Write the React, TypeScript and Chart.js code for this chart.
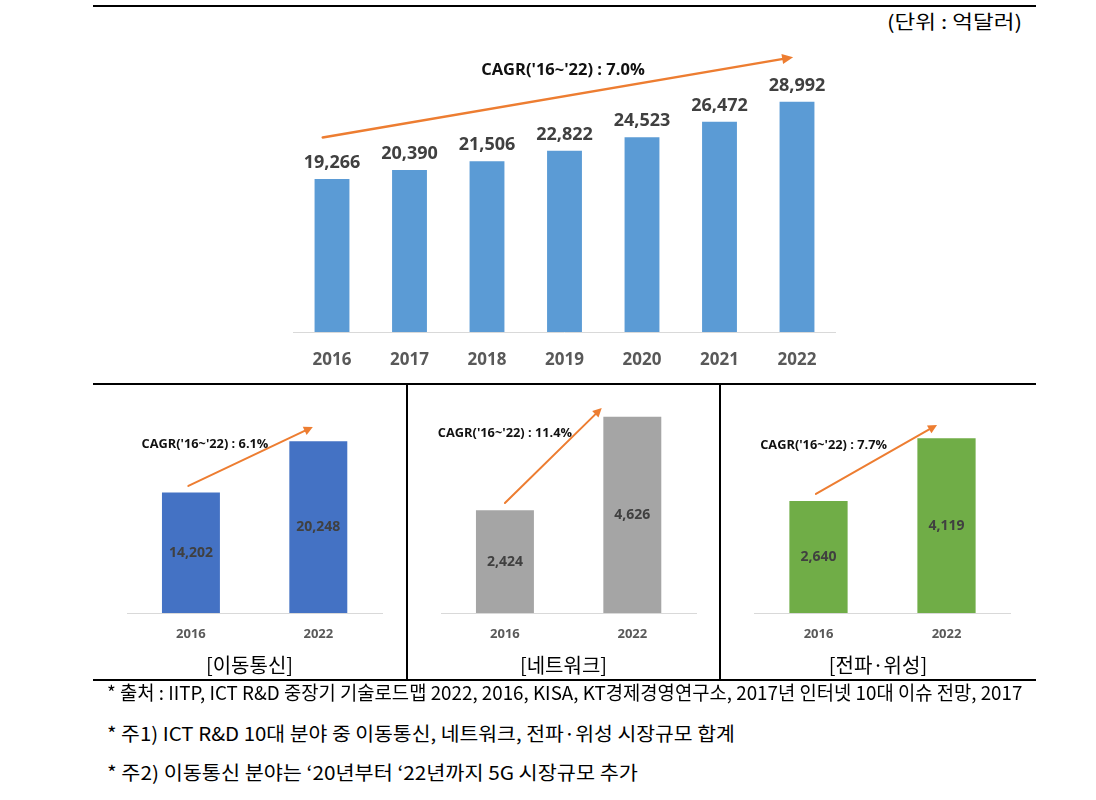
import React, { useEffect, useLayoutEffect, useRef, useState } from "react";
import { Chart, registerables } from "chart.js";

Chart.register(...registerables);

// ---------- data ----------
const TOP_YEARS = ["2016", "2017", "2018", "2019", "2020", "2021", "2022"];
const TOP_VALUES = [19266, 20390, 21506, 22822, 24523, 26472, 28992];
const SMALL_YEARS = ["2016", "2022"];
const MOBILE_VALUES = [14202, 20248];
const NETWORK_VALUES = [2424, 4626];
const RADIO_VALUES = [2640, 4119];

const TOP_CAGR = "CAGR('16~'22) : 7.0%";
const MOBILE_CAGR = "CAGR('16~'22) : 6.1%";
const NETWORK_CAGR = "CAGR('16~'22) : 11.4%";
const RADIO_CAGR = "CAGR('16~'22) : 7.7%";

const UNIT_TEXT = "(단위 : 억달러)";
const PANEL_TITLES = ["[이동통신]", "[네트워크]", "[전파·위성]"];
const FOOTNOTES = [
  "* 출처 : IITP, ICT R&D 중장기 기술로드맵 2022, 2016, KISA, KT경제경영연구소, 2017년 인터넷 10대 이슈 전망, 2017",
  "* 주1) ICT R&D 10대 분야 중 이동통신, 네트워크, 전파·위성 시장규모 합계",
  "* 주2) 이동통신 분야는 ‘20년부터 ‘22년까지 5G 시장규모 추가",
];

const LATIN = "'Open Sans', 'Noto Sans CJK KR', sans-serif";
const KR = "'Noto Sans CJK KR', 'Noto Sans', sans-serif";
const ORANGE = "#ED7D31";

type Overlay = {
  arrow: [number, number, number, number];
  text: string;
  textAt: [number, number];
  textSize: number;
  lineWidth: number;
  headLen: number;
  headHalf: number;
};

type ChartProps = {
  labels: string[];
  values: number[];
  color: string;
  yMax: number;
  box: { left: number; top: number; width: number; height: number };
  pad: { left: number; right: number; top: number };
  axisHeight: number;
  barPct: number;
  tickSize: number;
  tickPad: number;
  valueSize: number;
  valueMode: "top" | "center";
  overlay: Overlay;
};

function BarChart(p: ChartProps) {
  const ref = useRef<HTMLCanvasElement | null>(null);
  useEffect(() => {
    if (!ref.current) return;
    const overlayPlugin = {
      id: "overlay",
      afterDatasetsDraw(chart: any) {
        const ctx = chart.ctx as CanvasRenderingContext2D;
        const xs = chart.scales.x;
        const ys = chart.scales.y;
        const meta = chart.getDatasetMeta(0);
        ctx.save();
        ctx.fillStyle = "#404040";
        ctx.font = `bold ${p.valueSize}px ${LATIN}`;
        ctx.textAlign = "center";
        meta.data.forEach((bar: any, i: number) => {
          const txt = p.values[i].toLocaleString("en-US");
          if (p.valueMode === "top") {
            ctx.textBaseline = "alphabetic";
            ctx.fillText(txt, bar.x, bar.y - 11);
          } else {
            ctx.textBaseline = "middle";
            ctx.fillText(txt, bar.x, (bar.y + bar.base) / 2);
          }
        });
        ctx.restore();
        const o = p.overlay;
        const x0 = xs.getPixelForValue(o.arrow[0]);
        const y0 = ys.getPixelForValue(o.arrow[1]);
        const x1 = xs.getPixelForValue(o.arrow[2]);
        const y1 = ys.getPixelForValue(o.arrow[3]);
        const dx = x1 - x0;
        const dy = y1 - y0;
        const len = Math.hypot(dx, dy);
        const ux = dx / len;
        const uy = dy / len;
        const bx = x1 - ux * o.headLen;
        const by = y1 - uy * o.headLen;
        ctx.save();
        ctx.strokeStyle = ORANGE;
        ctx.fillStyle = ORANGE;
        ctx.lineWidth = o.lineWidth;
        ctx.lineCap = "round";
        ctx.beginPath();
        ctx.moveTo(x0, y0);
        ctx.lineTo(bx + ux, by + uy);
        ctx.stroke();
        ctx.beginPath();
        ctx.moveTo(x1, y1);
        ctx.lineTo(bx - uy * o.headHalf, by + ux * o.headHalf);
        ctx.lineTo(bx + uy * o.headHalf, by - ux * o.headHalf);
        ctx.closePath();
        ctx.fill();
        ctx.restore();
        ctx.save();
        ctx.fillStyle = "#111111";
        ctx.font = `bold ${o.textSize}px ${LATIN}`;
        ctx.textAlign = "center";
        ctx.textBaseline = "middle";
        ctx.fillText(o.text, xs.getPixelForValue(o.textAt[0]), ys.getPixelForValue(o.textAt[1]));
        ctx.restore();
      },
    };
    const chart = new Chart(ref.current, {
      type: "bar",
      data: {
        labels: p.labels,
        datasets: [
          {
            data: p.values,
            backgroundColor: p.color,
            borderWidth: 0,
            categoryPercentage: 1,
            barPercentage: p.barPct,
          },
        ],
      },
      options: {
        animation: false,
        responsive: false,
        maintainAspectRatio: false,
        layout: { padding: { left: p.pad.left, right: p.pad.right, top: p.pad.top, bottom: 0 } },
        plugins: { legend: { display: false }, tooltip: { enabled: false }, title: { display: false } },
        scales: {
          x: {
            grid: { display: false, drawTicks: false },
            border: { display: true, color: "#D9D9D9", width: 1 },
            ticks: {
              color: "#595959",
              font: { family: LATIN, weight: "bold", size: p.tickSize },
              padding: p.tickPad,
            },
            afterFit: (s: any) => {
              s.height = p.axisHeight;
            },
          },
          y: { display: false, min: 0, max: p.yMax },
        },
      } as any,
      plugins: [overlayPlugin],
    });
    return () => chart.destroy();
  }, []);
  return (
    <canvas
      ref={ref}
      width={p.box.width}
      height={p.box.height}
      style={{
        position: "absolute",
        left: p.box.left,
        top: p.box.top,
        width: p.box.width,
        height: p.box.height,
      }}
    />
  );
}

function HLine({ x, y, w }: { x: number; y: number; w: number }) {
  return <div style={{ position: "absolute", left: x, top: y, width: w, height: 2, background: "#000" }} />;
}
function VLine({ x, y, h }: { x: number; y: number; h: number }) {
  return <div style={{ position: "absolute", left: x, top: y, width: 2, height: h, background: "#000" }} />;
}

// text squeezed horizontally to the reference's condensed face
function FitText({
  text,
  target,
  style,
  origin,
}: {
  text: string;
  target: number;
  style: React.CSSProperties;
  origin: "left" | "right";
}) {
  const ref = useRef<HTMLSpanElement | null>(null);
  const [k, setK] = useState(1);
  useLayoutEffect(() => {
    if (ref.current) {
      const w = ref.current.offsetWidth;
      if (w > 0) setK(target / w);
    }
  }, []);
  return (
    <span
      ref={ref}
      style={{
        position: "absolute",
        whiteSpace: "nowrap",
        display: "inline-block",
        transformOrigin: `${origin} center`,
        transform: `scaleX(${k})`,
        ...style,
      }}
    >
      {text}
    </span>
  );
}

export default function App() {
  const smallCommon = {
    labels: SMALL_YEARS,
    axisHeight: 67,
    barPct: 0.455,
    tickSize: 13,
    tickPad: 13,
    valueSize: 14,
    valueMode: "center" as const,
  };

  const footBase: React.CSSProperties = {
    left: 107,
    height: 26,
    lineHeight: "26px",
    fontFamily: KR,
    fontSize: 19,
    color: "#000",
  };
  const footTargets = [915, 628, 531];
  const footTops = [679, 720, 759];

  return (
    <div
      style={{
        position: "absolute",
        left: 0,
        top: 0,
        width: 1096,
        height: 800,
        background: "#fff",
        overflow: "hidden",
        fontFamily: KR,
      }}
    >
      <HLine x={93} y={5} w={943} />
      <FitText
        text={UNIT_TEXT}
        target={135}
        origin="right"
        style={{
          right: 74,
          top: 8,
          height: 26,
          lineHeight: "26px",
          fontFamily: KR,
          fontSize: 19,
          color: "#000",
        }}
      />

      <BarChart
        labels={TOP_YEARS}
        values={TOP_VALUES}
        color="#5B9BD5"
        yMax={35000}
        box={{ left: 250, top: 0, width: 650, height: 400 }}
        pad={{ left: 43.25, right: 64.25, top: 54 }}
        axisHeight={68}
        barPct={0.45}
        tickSize={17}
        tickPad={18}
        valueSize={18}
        valueMode="top"
        overlay={{
          arrow: [-0.12, 24500, 5.95, 34600],
          text: TOP_CAGR,
          textAt: [2.98, 32950],
          textSize: 16.5,
          lineWidth: 2.5,
          headLen: 11,
          headHalf: 5,
        }}
      />

      <HLine x={93} y={383} w={943} />
      <VLine x={406} y={384} h={296} />
      <VLine x={719} y={384} h={296} />
      <HLine x={93} y={679} w={943} />

      <BarChart
        {...smallCommon}
        values={MOBILE_VALUES}
        color="#4472C4"
        yMax={25000}
        box={{ left: 100, top: 380, width: 300, height: 300 }}
        pad={{ left: 27.25, right: 18, top: 21 }}
        overlay={{
          arrow: [-0.02, 14980, 0.957, 21930],
          text: MOBILE_CAGR,
          textAt: [0.11, 19930],
          textSize: 12.8,
          lineWidth: 2,
          headLen: 9,
          headHalf: 4.5,
        }}
      />
      <BarChart
        {...smallCommon}
        values={NETWORK_VALUES}
        color="#A5A5A5"
        yMax={5000}
        box={{ left: 414, top: 380, width: 300, height: 300 }}
        pad={{ left: 27.25, right: 18, top: 21 }}
        overlay={{
          arrow: [0, 2594, 0.76, 4835],
          text: NETWORK_CAGR,
          textAt: [0, 4245],
          textSize: 12.8,
          lineWidth: 2,
          headLen: 9,
          headHalf: 4.5,
        }}
      />
      <BarChart
        {...smallCommon}
        values={RADIO_VALUES}
        color="#70AD47"
        yMax={5000}
        box={{ left: 727, top: 380, width: 303, height: 300 }}
        pad={{ left: 27.5, right: 19.5, top: 21 }}
        overlay={{
          arrow: [-0.02, 2807, 0.926, 4434],
          text: RADIO_CAGR,
          textAt: [0.04, 3962],
          textSize: 12.8,
          lineWidth: 2,
          headLen: 9,
          headHalf: 4.5,
        }}
      />

      {PANEL_TITLES.map((t, i) => {
        const cells = [
          [93, 313],
          [407, 313],
          [720, 316],
        ];
        return (
          <div
            key={t}
            style={{
              position: "absolute",
              left: cells[i][0],
              width: cells[i][1],
              top: 652,
              height: 26,
              lineHeight: "26px",
              textAlign: "center",
              fontFamily: KR,
              fontSize: 20,
              color: "#000",
            }}
          >
            {t}
          </div>
        );
      })}

      {FOOTNOTES.map((t, i) => (
        <FitText key={i} text={t} target={footTargets[i]} origin="left" style={{ ...footBase, top: footTops[i] }} />
      ))}
    </div>
  );
}
